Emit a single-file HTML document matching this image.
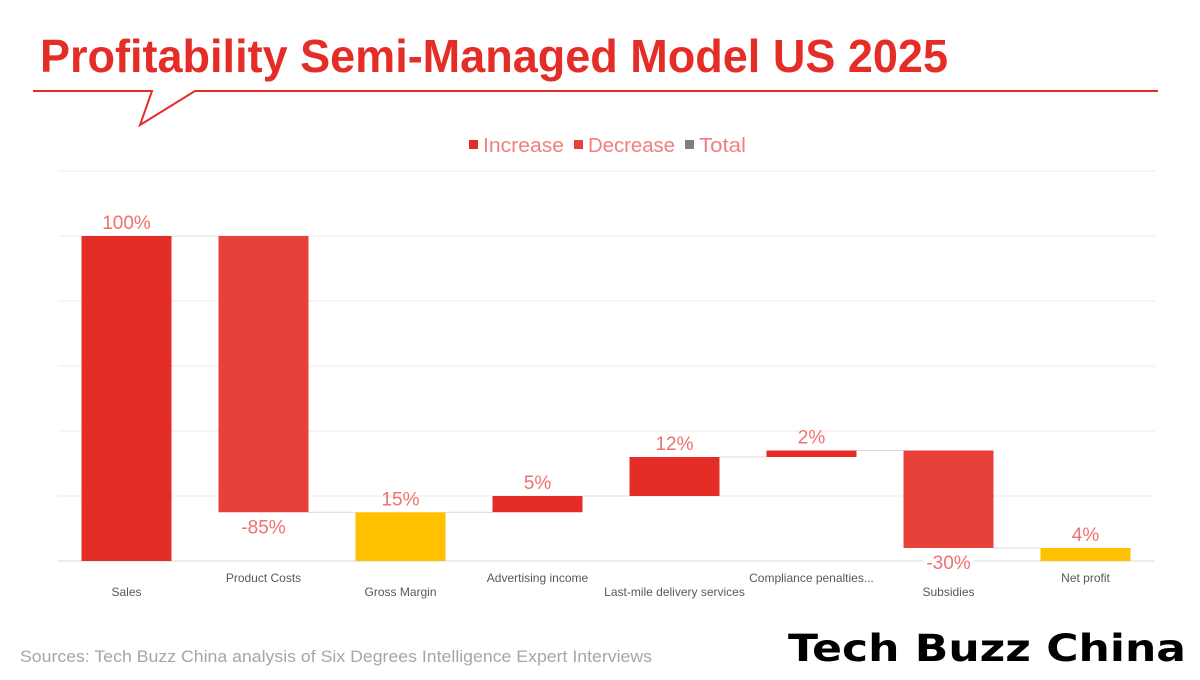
<!DOCTYPE html>
<html><head><meta charset="utf-8"><style>
body{margin:0;background:#fff;width:1200px;height:675px;overflow:hidden;font-family:"Liberation Sans",sans-serif}
</style></head><body>
<svg width="1200" height="675" xmlns="http://www.w3.org/2000/svg">
<text x="40" y="72" font-family="Liberation Sans, sans-serif" font-weight="bold" font-size="46" fill="#e52d27" textLength="908" lengthAdjust="spacingAndGlyphs">Profitability Semi-Managed Model US 2025</text>
<polyline points="33,91 152,91 140,125 195,91 1158,91" fill="none" stroke="#e52d27" stroke-width="2"/>
<g font-size="20" fill="#f08080">
<rect x="469" y="140" width="9" height="9" fill="#e52d27"/>
<text x="483" y="152" textLength="81" lengthAdjust="spacingAndGlyphs">Increase</text>
<rect x="574" y="140" width="9" height="9" fill="#e8413a"/>
<text x="588" y="152" textLength="87" lengthAdjust="spacingAndGlyphs">Decrease</text>
<rect x="685" y="140" width="9" height="9" fill="#7f7f7f"/>
<text x="699" y="152" textLength="47" lengthAdjust="spacingAndGlyphs">Total</text>
</g>
<g id="grid"></g><g id="bars"></g>
<text x="20" y="662" font-size="17" fill="#a6a6a6" textLength="632" lengthAdjust="spacingAndGlyphs">Sources: Tech Buzz China analysis of Six Degrees Intelligence Expert Interviews</text>
<g>
<text x="788" y="661" font-family="DejaVu Sans, sans-serif" font-weight="bold" font-size="37" fill="#000" textLength="398" lengthAdjust="spacingAndGlyphs">Tech Buzz China</text>
</g>
</svg>
<script>
const categories=["Sales","Product Costs","Gross Margin","Advertising income","Last-mile delivery services","Compliance penalties...","Subsidies","Net profit"];
const values=[100,-85,15,5,12,2,-30,4];
const kinds=["total0","dec","total","inc","inc","inc","dec","total"];
const labels=["100%","-85%","15%","5%","12%","2%","-30%","4%"];
const ticks=[0,20,40,60,80,100,120];
const NS="http://www.w3.org/2000/svg";
const y0=561,ppu=3.25,x0=58,step=137,bw=90;
const y=v=>y0-v*ppu, xc=i=>x0+step*(i+0.5);
function mk(t,a,p){const e=document.createElementNS(NS,t);for(const k in a)e.setAttribute(k,a[k]);p.appendChild(e);return e;}
const g=document.getElementById('grid'),b=document.getElementById('bars');
ticks.forEach(t=>{const l=mk('line',{x1:58,x2:1155,y1:y(t),y2:y(t),stroke:t===0?'#d9d9d9':'#fbe5e5','stroke-width':1},g);

});
let run=0;
categories.forEach((c,i)=>{
 let a,bb,col;
 if(kinds[i].startsWith('total')){a=0;bb=values[i];run=values[i];col=i===0?'#e52d27':'#ffc000';}
 else{a=run;bb=run+values[i];run=bb;col=values[i]<0?'#e8413a':'#e52d27';}
 const top=y(Math.max(a,bb)),bot=y(Math.min(a,bb));
 const r=mk('rect',{x:xc(i)-bw/2,y:top,width:bw,height:bot-top,fill:col},b);
 
 
 if(i<categories.length-1){const cl=mk('line',{x1:xc(i)+bw/2,x2:xc(i+1)-bw/2,y1:y(run),y2:y(run),stroke:'#d9d9d9','stroke-width':1},b);
 
 }
 const ly=values[i]<0?bot+21:top-7;
 const t=mk('text',{x:xc(i),y:ly,'text-anchor':'middle','font-size':19,fill:'#f07070'},b);t.textContent=labels[i];
 if(values[i]<0){const bg=mk('rect',{x:xc(i)-25,y:ly-17,width:50,height:21,fill:'#fff'},b);b.insertBefore(bg,t);
 
 }
 
 
 const ct=mk('text',{x:xc(i),y:i%2===0?596:582,'text-anchor':'middle','font-size':12,fill:'#595959'},b);ct.textContent=c;
 
 
});
</script>
</body></html>
